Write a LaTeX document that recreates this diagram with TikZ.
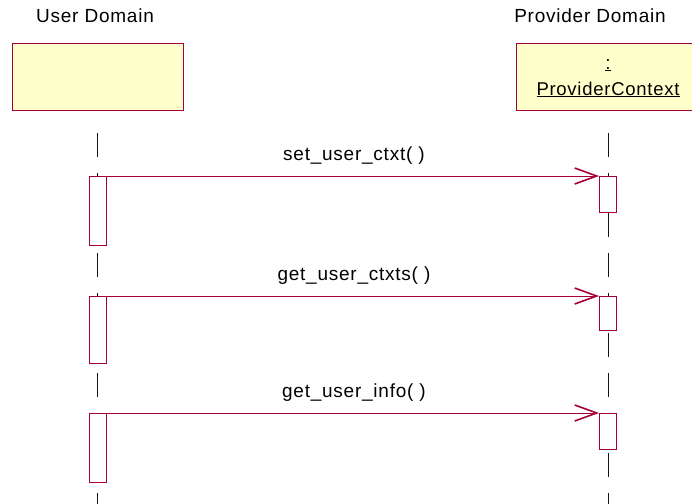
\documentclass[tikz,border=0pt]{standalone}
\usepackage{fontspec}
\setmainfont{Liberation Sans}[LetterSpace=4]
\usetikzlibrary{arrows.meta}
\definecolor{umlred}{RGB}{165,0,60}
\definecolor{umlfill}{RGB}{255,255,204}
\definecolor{lifegray}{RGB}{20,20,20}
\tikzset{
  lbl/.style={font=\fontsize{19}{22}\selectfont, inner sep=0pt, anchor=base},
  headbox/.style={draw=umlred, fill=umlfill, line width=0.9pt, inner sep=0pt, minimum height=67pt},
  actbox/.style={draw=umlred, fill=white, line width=0.9pt, inner sep=0pt, minimum width=17pt, anchor=north},
  lifeline/.style={draw=lifegray, line width=1pt, dash pattern=on 24pt off 16pt},
  msg/.style={draw=umlred, line width=0.9pt, -{Straight Barb[length=22pt,width=16pt,line width=1.6pt]}},
}
\begin{document}
\begin{tikzpicture}[x=1pt,y=-1pt]
\useasboundingbox (0,0) rectangle (692,503);
\begin{scope}
\clip (0,0) rectangle (692,503);
% titles
\node[lbl] (tU) at (95,23) {User Domain};
\node[lbl] (tP) at (590,23) {Provider Domain};
% heads
\node[headbox, minimum width=171pt] (hU) at (97.5,76.5) {};
\node[headbox, minimum width=184pt] (hP) at (608,76.5) {};
\node[lbl] (colon) at (608,69) {\underline{:}};
\node[lbl, font=\fontsize{18.5}{22}\selectfont] (pc) at (608,95) {\underline{ProviderContext}};
% lifelines
\coordinate (lU0) at (97.5,133);
\coordinate (lU1) at (97.5,510);
\coordinate (lP0) at (608,133);
\coordinate (lP1) at (608,510);
\draw[lifeline] (lU0) -- (lU1);
\draw[lifeline] (lP0) -- (lP1);
% activations
\node[actbox, minimum height=69pt] (u1) at (97.5,176) {};
\node[actbox, minimum height=67pt] (u2) at (97.5,296) {};
\node[actbox, minimum height=69pt] (u3) at (97.5,413) {};
\node[actbox, minimum height=36pt] (p1) at (608,176) {};
\node[actbox, minimum height=34pt] (p2) at (608,296) {};
\node[actbox, minimum height=36pt] (p3) at (608,413) {};
% messages
\draw[msg] (u1.north east) -- (p1.north west);
\draw[msg] (u2.north east) -- (p2.north west);
\draw[msg] (u3.north east) -- (p3.north west);
\node[lbl] (m1) at (354,160) {set\_user\_ctxt( )};
\node[lbl] (m2) at (354,280) {get\_user\_ctxts( )};
\node[lbl] (m3) at (354,397) {get\_user\_info( )};
\end{scope}
\end{tikzpicture}
\end{document}
